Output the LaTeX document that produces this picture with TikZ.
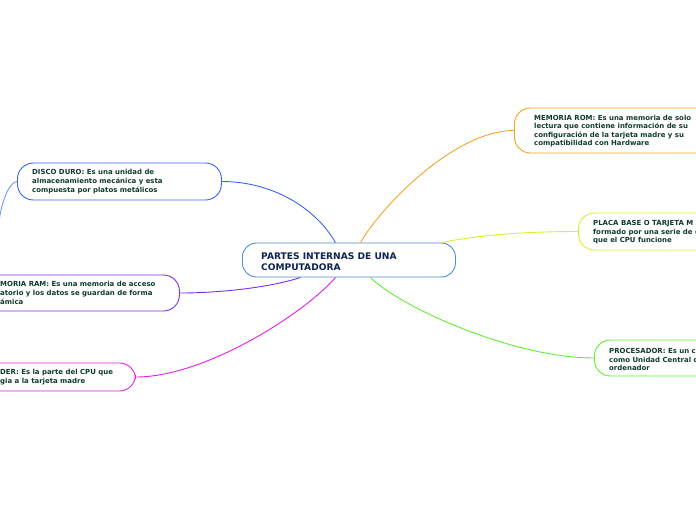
\documentclass[tikz,border=0pt]{standalone}
\usepackage{fontspec}
\setmainfont{DejaVu Sans}
\usetikzlibrary{calc}
\definecolor{txtgreen}{HTML}{0F3B2B}
\definecolor{txtnavy}{HTML}{0E2350}
\definecolor{cblue}{HTML}{3A64F0}
\definecolor{corange}{HTML}{F5A326}
\definecolor{cyellow}{HTML}{D8EE2E}
\definecolor{cgreen}{HTML}{5EEE2E}
\definecolor{cpurple}{HTML}{7A30EE}
\definecolor{cmagenta}{HTML}{E31EE3}
\definecolor{ccenter}{HTML}{4A90D0}
\begin{document}
\begin{tikzpicture}[x=1pt,y=-1pt,
  box/.style={draw=#1, fill=white, line width=0.9pt, rounded corners=16pt, inner sep=0pt, anchor=west},
  txt/.style={anchor=west, align=left, inner sep=0pt, text=txtgreen, font=\bfseries\fontsize{6.95}{8.6}\selectfont},
  link/.style={draw=#1, line width=0.9pt}]
\path[clip] (0,0) rectangle (696,520);
% centre
\node[box=ccenter, rounded corners=14pt, minimum width=213pt, minimum height=34pt] (c) at (242,260) {};
\node[txt, text=txtnavy, font=\bfseries\fontsize{9.1}{11}\selectfont] (ct) at (261,261.5) {PARTES INTERNAS DE UNA\\COMPUTADORA};
% left side
\node[box=cblue, minimum width=204pt, minimum height=37pt] (dd) at (17,181.5) {};
\node[txt] (ddt) at (32,181.5) {DISCO DURO: Es una unidad de\\almacenamiento mecánica y esta\\compuesta por platos metálicos};
\node[box=cpurple, minimum width=200pt, minimum height=36pt] (ram) at (-21,293) {};
\node[txt] (ramt) at (0,293) {MORIA RAM: Es una memoria de acceso\\atorio y los datos se guardan de forma\\ámica};
\node[box=cmagenta, minimum width=160pt, minimum height=28pt] (fp) at (-25,377) {};
\node[txt] (fpt) at (0,377) {DER: Es la parte del CPU que\\gia a la tarjeta madre};
% right side
\node[box=corange, minimum width=240pt, minimum height=45pt] (rom) at (514,130.5) {};
\node[txt] (romt) at (534,131) {MEMORIA ROM: Es una memoria de solo\\lectura que contiene información de su\\configuración de la tarjeta madre y su\\compatibilidad con Hardware};
\node[box=cyellow, minimum width=180pt, minimum height=37pt] (pb) at (578,231.5) {};
\node[txt] (pbt) at (593,232.5) {PLACA BASE O TARJETA M\\formado por una serie de c\\que el CPU funcione};
\node[box=cgreen, minimum width=160pt, minimum height=36pt] (pr) at (594,358) {};
\node[txt] (prt) at (609,359.5) {PROCESADOR: Es un c\\como Unidad Central d\\ordenador};
% connectors
\coordinate (off) at (-1,222);
\draw[link=cblue] ($(c.north)+(-13.5,0)$) .. controls +(-20,-35) and +(50,0) .. (dd.east);
\draw[link=corange] ($(c.north)+(11.5,0)$) .. controls +(20,-35) and +(-60,0) .. (rom.west);
\draw[link=cyellow] ($(c.north)+(92.5,0)$) .. controls +(40,-8) and +(-50,0) .. (pb.west);
\draw[link=cgreen] ($(c.south)+(21.5,0)$) .. controls +(30,30) and +(-80,0) .. (pr.west);
\draw[link=cpurple] ($(c.south)+(-48.5,0)$) .. controls +(-30,10) and +(40,0) .. (ram.east);
\draw[link=cmagenta] ($(c.south)+(-13.5,0)$) .. controls +(-30,35) and +(70,0) .. (fp.east);
\draw[link=cblue!70] (dd.west) .. controls +(-8,0) and +(2,-18) .. (off);
\end{tikzpicture}
\end{document}
